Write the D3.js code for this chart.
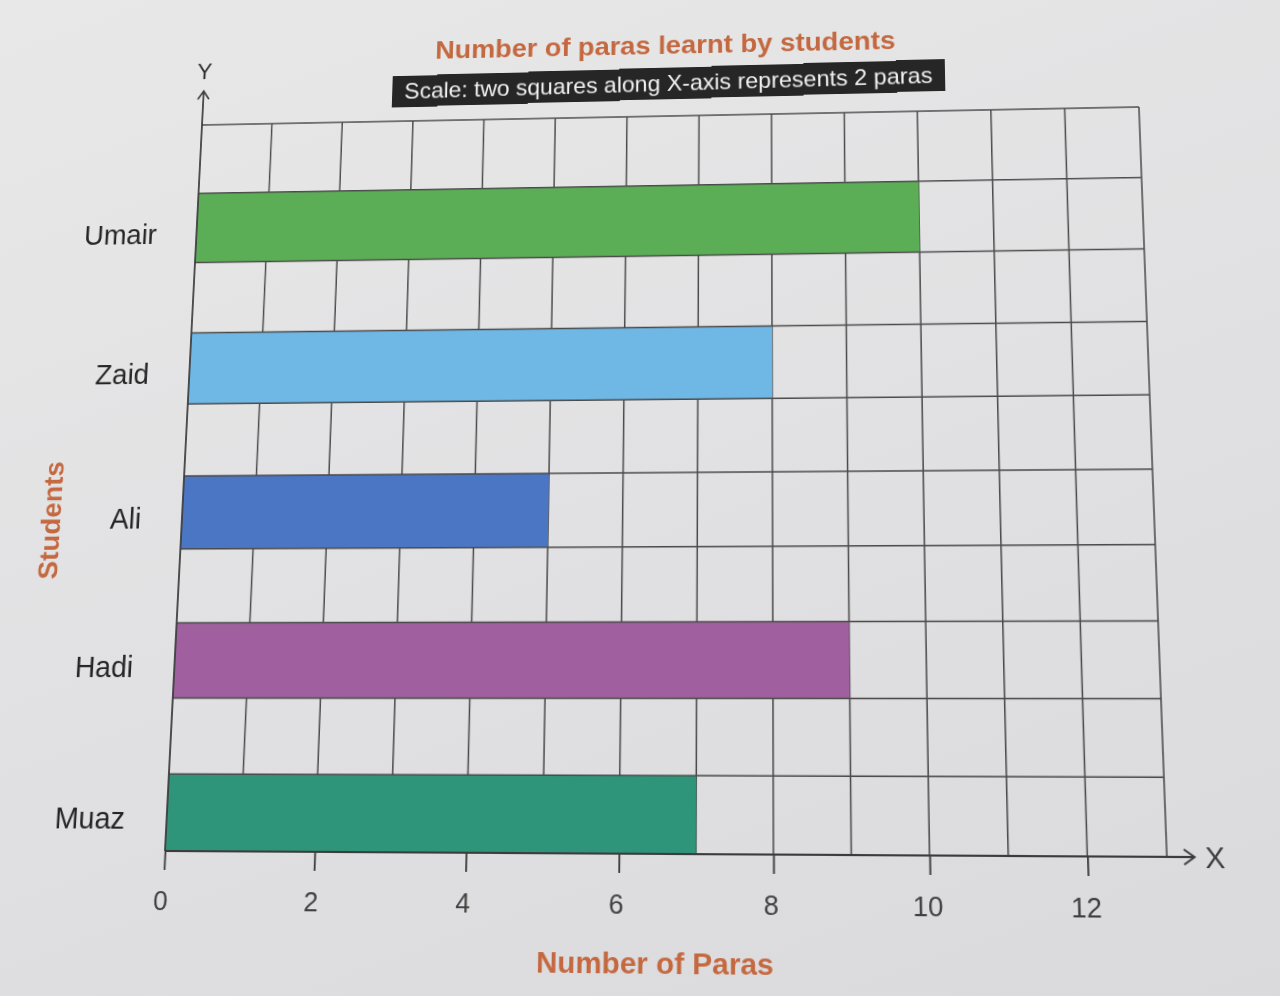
<!DOCTYPE html>
<html lang="en">
<head>
  <title>Number of paras learnt by students</title>
  <meta http-equiv="content-type" content="text/html; charset=utf-8" />
  <script src="https://cdn.jsdelivr.net/npm/d3@7/dist/d3.min.js"></script>
<style>

body {
	margin: 0;
	width: 1280px;
	height: 996px;
	overflow: hidden;
	background: linear-gradient(160deg, #e8e8e8 0%, #e1e1e3 50%, #dadadd 100%);
	font-family: "Liberation Sans", Arial, sans-serif;
}

#chart {
	position: absolute;
	left: 0;
	top: 0;
	transform-origin: 0 0;
}

.grid line {
	stroke: #4a4a4a;
	stroke-width: 1.5;
}

.axis line, .axis path {
	stroke: #3c3c3c;
	stroke-width: 1.8;
	fill: none;
}

.tick text {
	font-size: 26px;
	fill: #404040;
}

.student {
	font-size: 29px;
	fill: #262626;
}

.orange {
	font-weight: bold;
	fill: #c4683f;
}

</style>
</head>

<body>
	<svg id="chart" width="1280" height="996"></svg>

	<script>

	// chart data
	var students = ["Umair", "Zaid", "Ali", "Hadi", "Muaz"];
	var paras = [10, 8, 5, 9, 7];
	var barColours = ["#5cae56", "#6fb7e4", "#4a76c4", "#a0609f", "#2f957a"];
	var xTicks = [0, 2, 4, 6, 8, 10, 12];
	var xSquares = 13;
	var ySquares = 10;

	var svg = d3.select("#chart");
	var margin = {top: 116, right: 127, bottom: 142, left: 183};
	var width = 1280 - margin.left - margin.right,
		height = 996 - margin.top - margin.bottom;

	var x = d3.scaleLinear().domain([0, xSquares]).range([0, width]);
	var y = d3.scaleLinear().domain([0, ySquares]).range([0, height]);
	// each student takes two rows: an empty one and the bar
	var band = d3.scaleBand().domain(students).range([0, height]);

	var g = svg.append("g")
		.attr("transform", "translate(" + margin.left + "," + margin.top + ")");

	// vertical grid lines go under the bars
	g.append("g").attr("class", "grid")
		.selectAll("line").data(d3.range(1, xSquares + 1)).enter().append("line")
		.attr("x1", function(d) { return x(d); })
		.attr("x2", function(d) { return x(d); })
		.attr("y1", 0)
		.attr("y2", height);

	g.append("g").selectAll("rect")
		.data(students).enter().append("rect")
		.attr("x", 0)
		.attr("y", function(d) { return band(d) + band.bandwidth() / 2; })
		.attr("width", function(d, i) { return x(paras[i]); })
		.attr("height", band.bandwidth() / 2)
		.attr("fill", function(d, i) { return barColours[i]; });

	g.append("g").attr("class", "grid")
		.selectAll("line").data(d3.range(0, ySquares)).enter().append("line")
		.attr("x1", 0)
		.attr("x2", width)
		.attr("y1", function(d) { return y(d); })
		.attr("y2", function(d) { return y(d); });

	// student names
	g.append("g").selectAll("text")
		.data(students).enter().append("text")
		.attr("class", "student")
		.attr("x", -42)
		.attr("y", function(d) { return band(d) + band.bandwidth() * 0.75 + 6; })
		.attr("dy", "0.35em")
		.attr("text-anchor", "end")
		.text(function(d) { return d; });

	// x axis with arrow
	var xAxis = g.append("g")
		.attr("class", "axis")
		.attr("transform", "translate(0," + height + ")")
		.call(d3.axisBottom(x).tickValues(xTicks).tickSize(18).tickPadding(20).tickSizeOuter(0));
	xAxis.select(".domain").remove();
	xAxis.selectAll(".tick text").attr("dx", "-0.1em");
	xAxis.append("path").attr("d", "M0,0H" + (width + 26));
	xAxis.append("path").attr("d", "M" + (width + 16) + ",-7L" + (width + 26) + ",0L" + (width + 16) + ",7");
	xAxis.append("text").attr("class", "tick")
		.attr("x", width + 45).attr("y", 0).attr("dy", "0.35em")
		.style("font-size", "28px").attr("fill", "#404040")
		.text("X");

	// y axis with arrow
	var yAxis = g.append("g").attr("class", "axis");
	yAxis.append("path").attr("d", "M0," + height + "V-37");
	yAxis.append("path").attr("d", "M-6,-28L0,-37L6,-28");
	yAxis.append("text")
		.attr("x", 0).attr("y", -50)
		.attr("text-anchor", "middle")
		.style("font-size", "24px").attr("fill", "#333")
		.text("Y");

	// titles
	svg.append("text").attr("class", "orange")
		.attr("x", 668).attr("y", 49)
		.attr("text-anchor", "middle")
		.style("font-size", "28.5px")
		.text("Number of paras learnt by students");

	var scaleBox = svg.append("g").attr("transform", "translate(671,81) rotate(-0.6)");
	scaleBox.append("rect")
		.attr("x", -287).attr("y", -17).attr("width", 574).attr("height", 34)
		.attr("fill", "#262626");
	scaleBox.append("text")
		.attr("text-anchor", "middle").attr("dy", "0.35em")
		.style("font-size", "24px").attr("fill", "#f2f2f2")
		.text("Scale: two squares along X-axis represents 2 paras");

	svg.append("text").attr("class", "orange")
		.attr("x", 666).attr("y", 965)
		.attr("text-anchor", "middle")
		.style("font-size", "28.5px")
		.text("Number of Paras");

	svg.append("text").attr("class", "orange")
		.attr("transform", "translate(57,529) rotate(-90)")
		.attr("text-anchor", "middle")
		.style("font-size", "28px")
		.text("Students");

	// the page was photographed at an angle: map the flat grid corners onto the photo
	function homography(src, dst) {
		var A = [], b = [];
		for (var i = 0; i < 4; i++) {
			var sx = src[i][0], sy = src[i][1], u = dst[i][0], v = dst[i][1];
			A.push([sx, sy, 1, 0, 0, 0, -u * sx, -u * sy]); b.push(u);
			A.push([0, 0, 0, sx, sy, 1, -v * sx, -v * sy]); b.push(v);
		}
		for (var c = 0; c < 8; c++) {
			var p = c;
			for (var r = c + 1; r < 8; r++) if (Math.abs(A[r][c]) > Math.abs(A[p][c])) p = r;
			var t = A[c]; A[c] = A[p]; A[p] = t;
			t = b[c]; b[c] = b[p]; b[p] = t;
			for (r = 0; r < 8; r++) {
				if (r === c) continue;
				var f = A[r][c] / A[c][c];
				for (var k = c; k < 8; k++) A[r][k] -= f * A[c][k];
				b[r] -= f * b[c];
			}
		}
		return b.map(function(v, i) { return v / A[i][i]; });
	}

	var L = margin.left, R = margin.left + width, T = margin.top, B = margin.top + height;
	var h = homography(
		[[L, T], [R, T], [L, B], [R, B]],
		[[202, 125], [1139, 107], [165, 851], [1167, 857]]);

	svg.style("transform", "matrix3d(" + [h[0], h[3], 0, h[6], h[1], h[4], 0, h[7], 0, 0, 1, 0, h[2], h[5], 0, 1].join(",") + ")");

	</script>
</body>
</html>
